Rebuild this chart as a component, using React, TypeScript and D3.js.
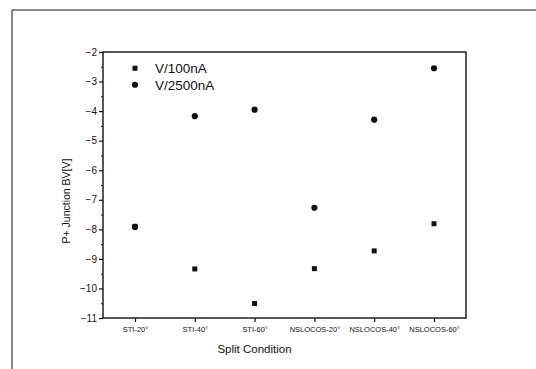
import { useEffect, useRef } from 'react';
import * as d3 from 'd3';

const categories = ['STI-20°', 'STI-40°', 'STI-60°', 'NSLOCOS-20°', 'NSLOCOS-40°', 'NSLOCOS-60°'];
const v100nA = [-7.9, -9.34, -10.51, -9.33, -8.73, -7.81];
const v2500nA = [-7.92, -4.17, -3.95, -7.27, -4.29, -2.55];
const yTicks = [-2, -3, -4, -5, -6, -7, -8, -9, -10, -11];

const W = 536;
const H = 369;

const App = () => {
  const svgRef = useRef<SVGSVGElement | null>(null);

  useEffect(() => {
    const root = d3.select(svgRef.current);
    root.selectAll('*').remove();

    const font = '"Liberation Sans", Arial, sans-serif';
    const margin = { top: 52, right: 70, bottom: 51, left: 103 };
    const width = W - margin.left - margin.right;
    const height = H - margin.top - margin.bottom;

    // outer border of the scanned figure
    root.append('line')
      .attr('x1', 12).attr('y1', 10).attr('x2', W).attr('y2', 10)
      .attr('stroke', '#111').attr('stroke-width', 1);
    root.append('line')
      .attr('x1', 12).attr('y1', 10).attr('x2', 12).attr('y2', H)
      .attr('stroke', '#111').attr('stroke-width', 1);

    const svg = root.append('g')
      .attr('transform', `translate(${margin.left},${margin.top})`);

    const pad = 0.535;
    const x = d3.scaleLinear()
      .domain([1 - pad, categories.length + pad])
      .range([0, width]);

    const y = d3.scaleLinear()
      .domain([-11, -2])
      .range([height, 0]);

    // frame
    svg.append('rect')
      .attr('width', width)
      .attr('height', height)
      .attr('fill', 'none')
      .attr('stroke', '#111')
      .attr('stroke-width', 1.4);

    // y axis
    const yAxis = svg.append('g')
      .call(d3.axisLeft(y).tickValues(yTicks).tickSize(4).tickSizeOuter(0).tickFormat(d3.format('d')));
    yAxis.select('.domain').remove();
    yAxis.selectAll('text')
      .attr('x', -6)
      .style('font-family', font)
      .style('font-size', '10px')
      .attr('fill', '#111');
    yAxis.selectAll('line').attr('stroke', '#111').attr('stroke-width', 1.2);

    // y minor ticks
    svg.append('g')
      .call(d3.axisLeft(y).tickValues(d3.range(-10.5, -2, 1)).tickSize(2).tickFormat(() => ''))
      .call(g => g.select('.domain').remove())
      .selectAll('line').attr('stroke', '#111');

    // x axis
    const xAxis = svg.append('g')
      .attr('transform', `translate(0,${height})`)
      .call(d3.axisBottom(x)
        .tickValues(d3.range(1, categories.length + 1))
        .tickSize(4)
        .tickFormat((d) => categories[(d as number) - 1]));
    xAxis.select('.domain').remove();
    xAxis.selectAll('text')
      .attr('y', 9)
      .style('font-family', font)
      .style('font-size', '7.5px')
      .attr('fill', '#111');
    xAxis.selectAll('line').attr('stroke', '#111').attr('stroke-width', 1.2);

    // axis titles
    svg.append('text')
      .attr('x', x(3.5) - 30)
      .attr('y', height + 35)
      .attr('text-anchor', 'middle')
      .style('font-family', font)
      .style('font-size', '11.5px')
      .attr('fill', '#111')
      .text('Split Condition');

    svg.append('text')
      .attr('transform', 'rotate(-90)')
      .attr('x', -(201 - margin.top))
      .attr('y', -33)
      .attr('text-anchor', 'middle')
      .style('font-family', font)
      .style('font-size', '10.5px')
      .attr('fill', '#111')
      .text('P+ Junction BV[V]');

    // V/100nA squares
    const s = 5;
    svg.selectAll('.sq')
      .data(v100nA)
      .enter()
      .append('rect')
      .attr('class', 'sq')
      .attr('x', (d, i) => x(i + 1) - s / 2)
      .attr('y', d => y(d) - s / 2)
      .attr('width', s)
      .attr('height', s)
      .attr('fill', '#111');

    // V/2500nA circles
    svg.selectAll('.dot')
      .data(v2500nA)
      .enter()
      .append('circle')
      .attr('class', 'dot')
      .attr('cx', (d, i) => x(i + 1))
      .attr('cy', d => y(d))
      .attr('r', 3.1)
      .attr('fill', '#111');

    // legend
    const legend = svg.append('g').attr('transform', `translate(${x(1)},${y(-2.55)})`);
    legend.append('rect')
      .attr('x', -s / 2).attr('y', -s / 2)
      .attr('width', s).attr('height', s)
      .attr('fill', '#111');
    legend.append('circle')
      .attr('cx', 0).attr('cy', 16.5)
      .attr('r', 3.1)
      .attr('fill', '#111');
    legend.append('text')
      .attr('x', 20).attr('y', 5)
      .style('font-family', font)
      .style('font-size', '13.5px')
      .attr('fill', '#111')
      .text('V/100nA');
    legend.append('text')
      .attr('x', 20).attr('y', 21.5)
      .style('font-family', font)
      .style('font-size', '13.5px')
      .attr('fill', '#111')
      .text('V/2500nA');
  }, []);

  return (
    <svg
      ref={svgRef}
      width={W}
      height={H}
      style={{ position: 'absolute', left: 0, top: 0, background: '#fff' }}
    />
  );
};

export default App;
